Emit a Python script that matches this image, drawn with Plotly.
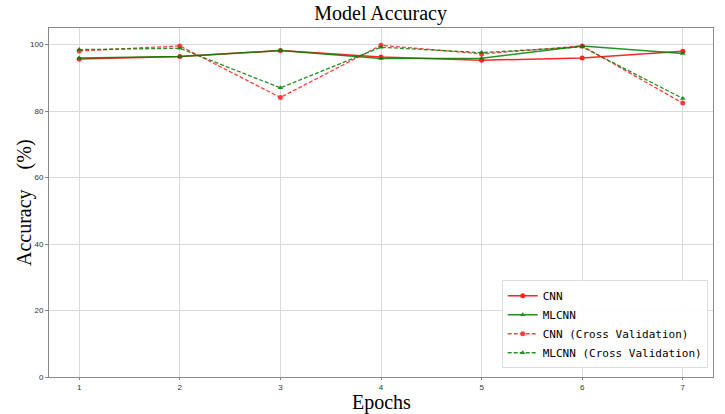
import plotly.graph_objects as go

epochs = [1, 2, 3, 4, 5, 6, 7]
cnn = [95.7, 96.4, 98.2, 96.3, 95.3, 96.0, 98.0]
mlcnn = [96.0, 96.4, 98.2, 95.8, 95.9, 99.6, 97.3]
cnn_cv = [98.1, 99.6, 84.1, 99.8, 97.2, 99.6, 82.4]
mlcnn_cv = [98.5, 98.9, 87.0, 99.2, 97.6, 99.3, 83.8]

RED = "#ff0000"
GREEN = "#008000"

W, H = 725, 414
ML, MR, MT, MB = 49, 12, 28, 37
PW, PH = W - ML - MR, H - MT - MB

fig = go.Figure()
fig.add_trace(go.Scatter(x=epochs, y=cnn, name="CNN", mode="lines+markers",
                         line=dict(color=RED, width=1.5), marker=dict(symbol="circle", size=5, color=RED), opacity=0.85))
fig.add_trace(go.Scatter(x=epochs, y=mlcnn, name="MLCNN", mode="lines+markers",
                         line=dict(color=GREEN, width=1.5), marker=dict(symbol="triangle-up", size=5, color=GREEN), opacity=0.85))
fig.add_trace(go.Scatter(x=epochs, y=cnn_cv, name="CNN (Cross Validation)", mode="lines+markers",
                         line=dict(color=RED, width=1.3, dash="4px,2px"), marker=dict(symbol="circle", size=5, color=RED), opacity=0.75))
fig.add_trace(go.Scatter(x=epochs, y=mlcnn_cv, name="MLCNN (Cross Validation)", mode="lines+markers",
                         line=dict(color=GREEN, width=1.3, dash="4px,2px"), marker=dict(symbol="triangle-up", size=5, color=GREEN), opacity=0.85))

fig.update_layout(
    width=W, height=H,
    margin=dict(l=ML, r=MR, t=MT, b=MB, autoexpand=False),
    paper_bgcolor="white", plot_bgcolor="white",
    title=dict(text="Model Accuracy", x=0.525, xanchor="center", y=0.985, yanchor="top",
               font=dict(family="Liberation Serif", size=20, color="black")),
    showlegend=True,
    legend=dict(x=0.992, y=0.025, xanchor="right", yanchor="bottom",
                bgcolor="rgba(255,255,255,0.9)", bordercolor="#dddddd", borderwidth=1,
                font=dict(family="DejaVu Sans Mono", size=11, color="black"),
                tracegroupgap=1, itemwidth=30),
    font=dict(family="Liberation Sans", size=8, color="#333333"),
    annotations=[
        dict(text="Epochs", xref="paper", yref="paper", x=0.5, y=-(390 - (H - MB)) / PH,
             xanchor="center", yanchor="top", showarrow=False, borderpad=0,
             font=dict(family="Liberation Serif", size=20, color="black")),
        dict(text="Accuracy\u2003(%)", xref="paper", yref="paper", x=-(ML - 12) / PW, y=0.5,
             xanchor="left", yanchor="middle", textangle=-90, showarrow=False, borderpad=0,
             font=dict(family="Liberation Serif", size=20, color="black")),
    ],
)
fig.update_xaxes(range=[0.7, 7.3], tickvals=epochs, showgrid=True, gridcolor="#d9d9d9", gridwidth=1,
                 showline=True, linecolor="#888888", linewidth=1, mirror=True, zeroline=False,
                 ticks="outside", ticklen=2, tickcolor="#888888", automargin=False)
fig.update_yaxes(range=[0, 105], tickvals=[0, 20, 40, 60, 80, 100], showgrid=True, gridcolor="#d9d9d9", gridwidth=1,
                 showline=True, linecolor="#888888", linewidth=1, mirror=True, zeroline=False,
                 ticks="outside", ticklen=3, tickcolor="#888888", automargin=False)

fig.write_html("out.html")
